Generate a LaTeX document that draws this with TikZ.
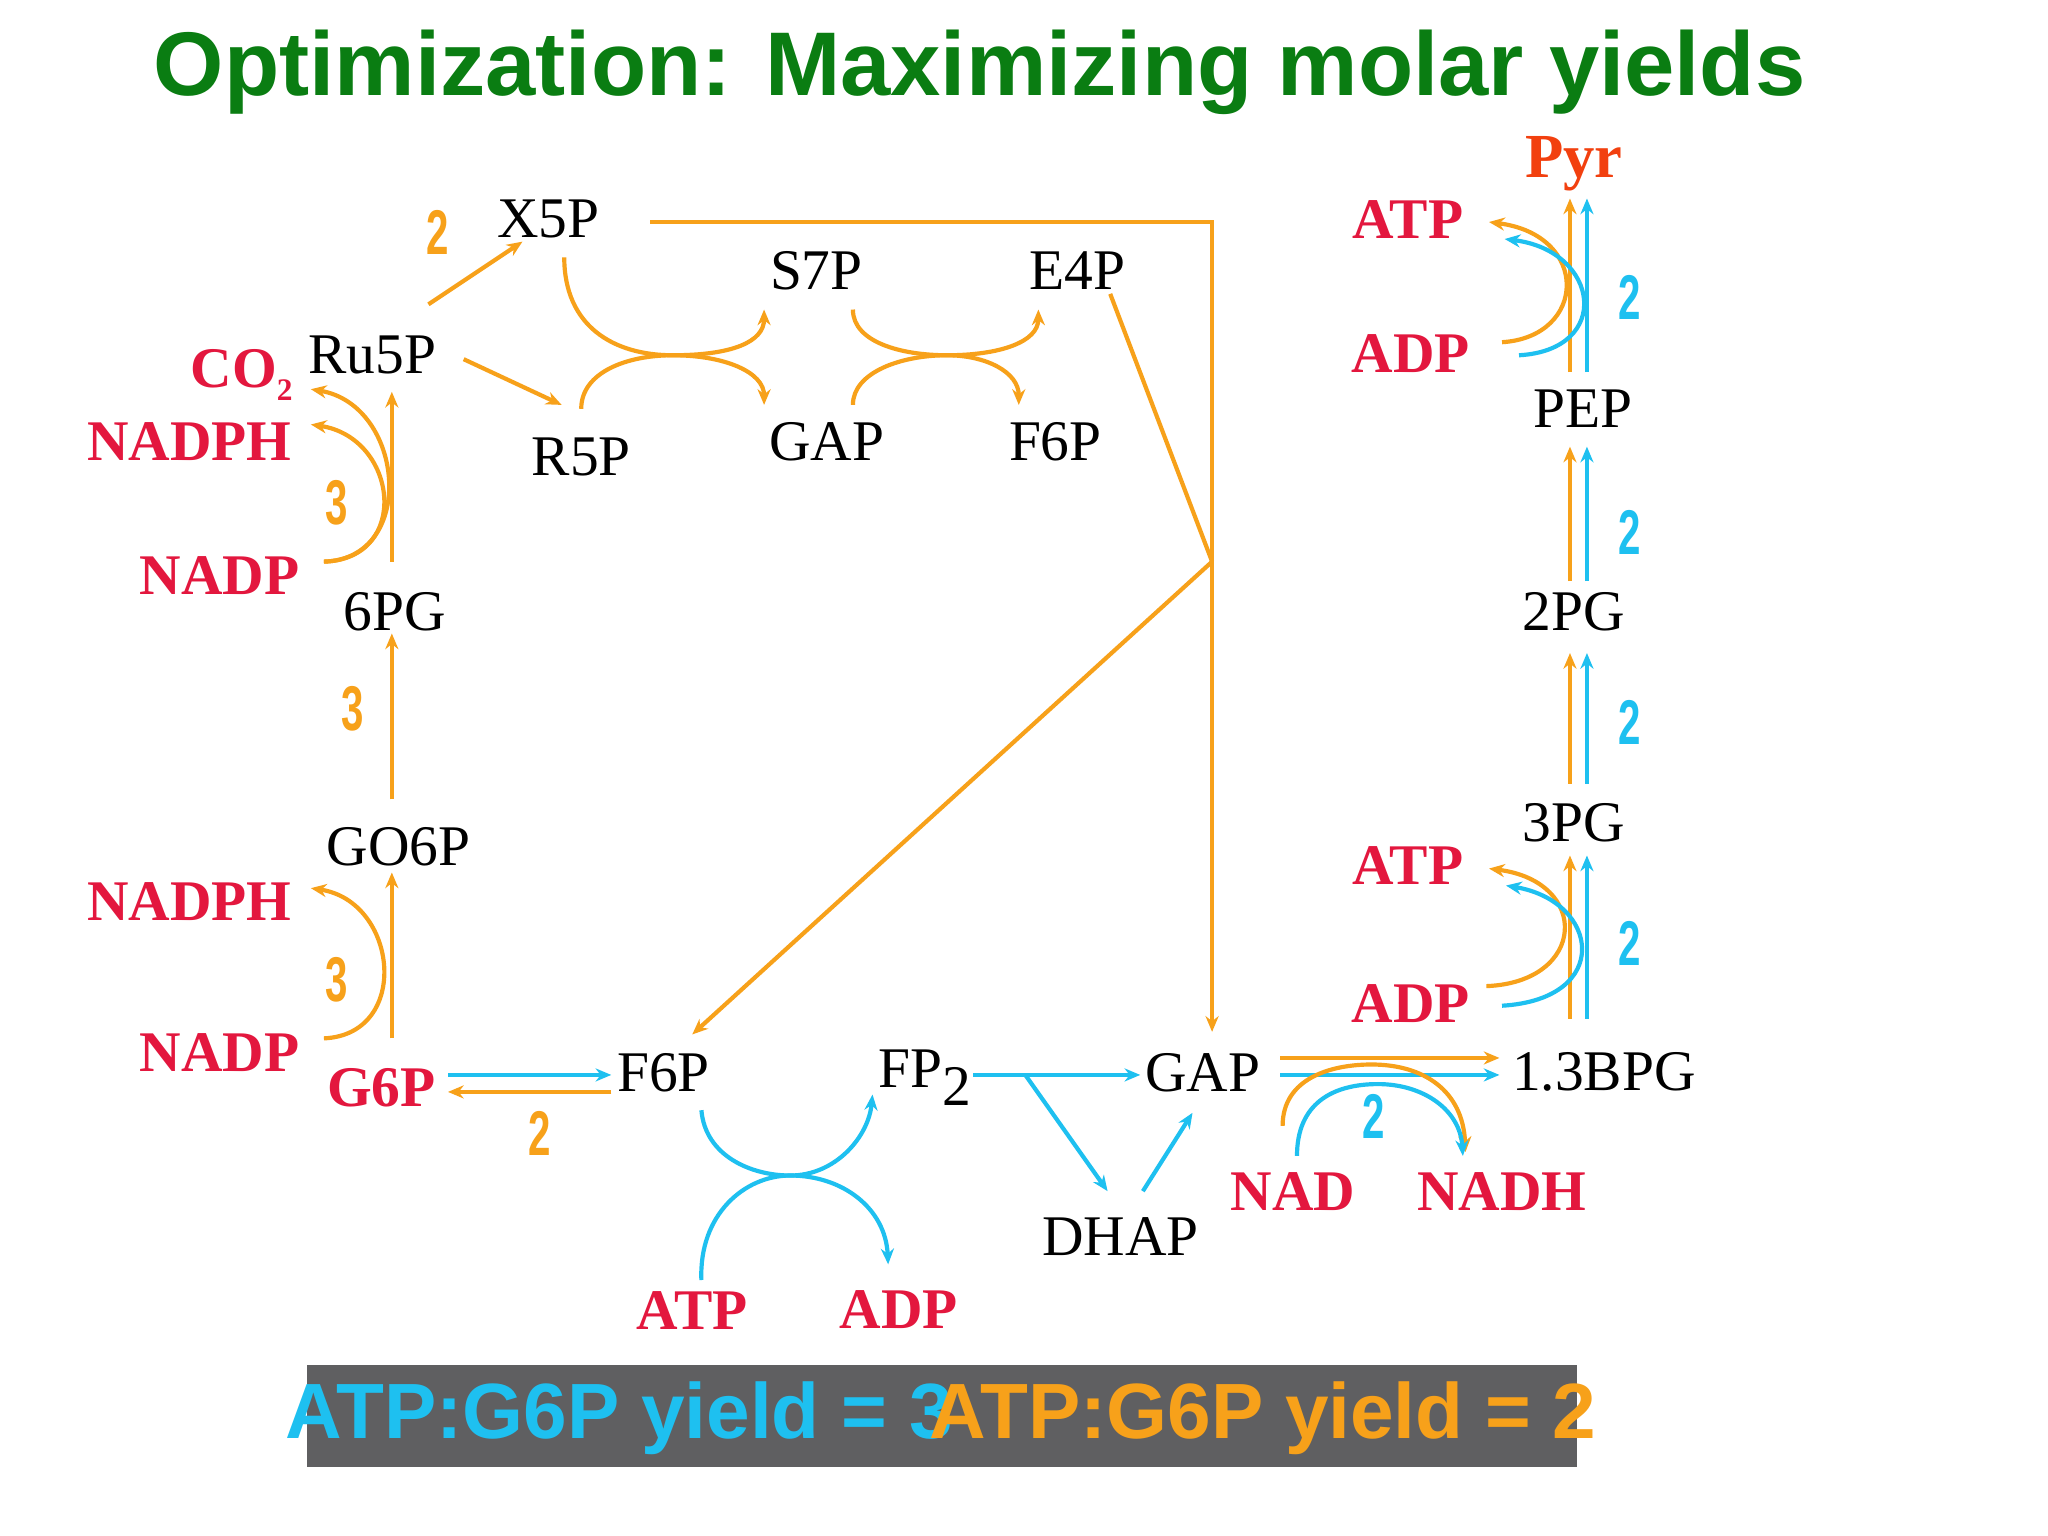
\documentclass[tikz,border=0pt]{standalone}
\usepackage{fontspec}
\setmainfont{Liberation Serif}
\setsansfont{Liberation Sans}
\usetikzlibrary{arrows.meta}
\definecolor{org}{HTML}{F7A11A}
\definecolor{blu}{HTML}{1EC0F0}
\definecolor{rd}{HTML}{E3173E}
\definecolor{grn}{HTML}{0A7D12}
\definecolor{pyr}{HTML}{F2400F}
\definecolor{boxg}{HTML}{5F5F61}
\tikzset{
 met/.style={font=\fontsize{22}{24}\selectfont, inner sep=1pt},
 cof/.style={font=\fontsize{22}{24}\selectfont\bfseries, text=rd, inner sep=1pt},
 num/.style={font=\sffamily\bfseries\fontsize{22}{24}\selectfont, inner sep=0pt},
 onum/.style={num, text=org},
 bnum/.style={num, text=blu},
 ol/.style={draw=org, line width=1.6pt},
 bl/.style={draw=blu, line width=1.6pt},
 tip/.style={-{Stealth[length=6pt,width=5pt,open]}},
 ftip/.style={-{Stealth[length=6pt,width=5pt]}},
}
\begin{document}
\begin{tikzpicture}[x=0.5pt,y=-0.5pt]
\useasboundingbox (0,0) rectangle (1568,1176);
\fill[white] (0,0) rectangle (1568,1176);
% title
\node[text=grn, font=\sffamily\bfseries] (title) at (750,55) {\resizebox{632pt}{!}{Optimization: Maximizing molar yields}};
% metabolites
\node[met] (x5p) at (420,168) {X5P};
\node[met] (s7p) at (625,207) {S7P};
\node[met] (e4p) at (825,207) {E4P};
\node[met] (ru5p) at (285,272) {Ru5P};
\node[met] (r5p) at (445,350) {R5P};
\node[met] (gapt) at (633,338) {GAP};
\node[met] (f6pt) at (808,338) {F6P};
\node[met] (pg6) at (302,468) {6PG};
\node[met] (go6p) at (305,648) {GO6P};
\node[met] (f6p) at (508,821) {F6P};
\node[met] (fp2) at (708,825) {FP\raisebox{-0.7ex}{2}};
\node[met] (gap) at (921,821) {GAP};
\node[met] (bpg) at (1228,821) {1.3BPG};
\node[met] (dhap) at (858,947) {DHAP};
\node[met] (pep) at (1212,313) {PEP};
\node[met] (pg2) at (1205,468) {2PG};
\node[met] (pg3) at (1205,630) {3PG};
\node[font=\fontsize{24}{26}\selectfont\bfseries, text=pyr] (pyr) at (1205,125) {Pyr};
% cofactors
\node[cof] (co2) at (185,287) {CO\raisebox{-0.5ex}{\fontsize{12}{12}\selectfont 2}};
\node[cof] (nadph1) at (145,338) {NADPH};
\node[cof] (nadp1) at (168,441) {NADP};
\node[cof] (nadph2) at (145,690) {NADPH};
\node[cof] (nadp2) at (168,806) {NADP};
\node[cof] (g6p) at (292,833) {G6P};
\node[cof] (atp1) at (530,1003) {ATP};
\node[cof] (adp1) at (688,1003) {ADP};
\node[cof] (nad) at (990,912) {NAD};
\node[cof] (nadh) at (1150,912) {NADH};
\node[cof] (atp2) at (1078,168) {ATP};
\node[cof] (adp2) at (1080,271) {ADP};
\node[cof] (atp3) at (1078,663) {ATP};
\node[cof] (adp3) at (1080,768) {ADP};
% numbers
\node[onum] (n1) at (335,178) {\scalebox{0.7}[1.1]{2}};
\node[onum] (n2) at (258,385) {\scalebox{0.7}[1.1]{3}};
\node[onum] (n3) at (270,543) {\scalebox{0.7}[1.1]{3}};
\node[onum] (n4) at (258,750) {\scalebox{0.7}[1.1]{3}};
\node[onum] (n5) at (413,868) {\scalebox{0.7}[1.1]{2}};
\node[bnum] (b1) at (1248,228) {\scalebox{0.7}[1.1]{2}};
\node[bnum] (b2) at (1248,408) {\scalebox{0.7}[1.1]{2}};
\node[bnum] (b3) at (1248,553) {\scalebox{0.7}[1.1]{2}};
\node[bnum] (b4) at (1248,722) {\scalebox{0.7}[1.1]{2}};
\node[bnum] (b5) at (1052,855) {\scalebox{0.7}[1.1]{2}};
% coordinates
\coordinate (j1) at (928,170);
\coordinate (j2) at (928,430);
% PPP arrows
\draw[ol,tip] (328,233) -- (400,185);
\draw[ol,tip] (355,275) -- (430,310);
\draw[ol,tip] (498,170) -- (j1) -- (928,790);
\draw[ol] (850,225) -- (j2);
\draw[ol,tip] (j2) -- (530,792);
% crossovers top
\draw[ol,tip] (432,197) .. controls (432,250) and (470,272) .. (515,272) .. controls (560,272) and (585,262) .. (585,237);
\draw[ol,tip] (445,313) .. controls (445,285) and (480,272) .. (515,272) .. controls (555,272) and (585,285) .. (585,310);
\draw[ol,tip] (653,237) .. controls (653,262) and (690,272) .. (725,272) .. controls (765,272) and (795,262) .. (795,237);
\draw[ol,tip] (653,310) .. controls (653,285) and (690,272) .. (725,272) .. controls (755,272) and (780,285) .. (780,310);
% left oxidative branch
\draw[ol,tip] (300,430) -- (300,300);
\draw[ol,tip] (248,430) .. controls (315,428) and (305,335) .. (238,325);
\draw[ol,tip] (248,430) .. controls (320,428) and (310,310) .. (238,298);
\draw[ol,tip] (300,612) -- (300,485);
\draw[ol,tip] (300,795) -- (300,668);
\draw[ol,tip] (248,795) .. controls (315,792) and (305,690) .. (238,680);
% G6P <-> F6P
\draw[bl,tip] (343,823) -- (468,823);
\draw[ol,tip] (468,836) -- (343,836);
% F6P -> FP2
\draw[bl,ftip] (537,850) .. controls (540,885) and (575,900) .. (605,900) .. controls (640,900) and (665,870) .. (668,838);
\draw[bl,ftip] (537,980) .. controls (535,930) and (570,900) .. (605,900) .. controls (645,900) and (678,925) .. (680,968);
% FP2 -> GAP/DHAP
\draw[bl,tip] (745,823) -- (873,823);
\draw[bl,tip] (785,823) -- (848,912);
\draw[bl,tip] (875,912) -- (913,852);
% GAP -> 1.3BPG
\draw[ol,tip] (980,810) -- (1148,810);
\draw[bl,tip] (980,823) -- (1148,823);
\draw[ol,tip] (982,862) .. controls (982,825) and (1020,815) .. (1050,815) .. controls (1090,815) and (1120,835) .. (1122,882);
\draw[bl,tip] (993,885) .. controls (993,845) and (1020,830) .. (1055,830) .. controls (1090,830) and (1118,850) .. (1120,885);
% lower glycolysis verticals
\draw[ol,tip] (1202,780) -- (1202,655);
\draw[bl,tip] (1215,780) -- (1215,655);
\draw[ol,tip] (1138,755) .. controls (1215,752) and (1218,675) .. (1140,665);
\draw[bl,tip] (1150,770) .. controls (1235,765) and (1225,690) .. (1153,678);
\draw[ol,tip] (1202,600) -- (1202,500);
\draw[bl,tip] (1215,600) -- (1215,500);
\draw[ol,tip] (1202,445) -- (1202,342);
\draw[bl,tip] (1215,445) -- (1215,342);
\draw[ol,tip] (1202,285) -- (1202,152);
\draw[bl,tip] (1215,285) -- (1215,152);
\draw[ol,ftip] (1150,262) .. controls (1215,258) and (1218,180) .. (1140,170);
\draw[bl,ftip] (1163,272) .. controls (1235,268) and (1225,192) .. (1152,183);
% bottom box
\fill[boxg] (235,1045) rectangle (1207,1123);
\node[font=\sffamily\bfseries\fontsize{30}{32}\selectfont, text=blu] (y1) at (474,1086) {ATP:G6P yield = 3};
\node[font=\sffamily\bfseries\fontsize{30}{32}\selectfont, text=org] (y2) at (967,1086) {ATP:G6P yield = 2};
\end{tikzpicture}
\end{document}
